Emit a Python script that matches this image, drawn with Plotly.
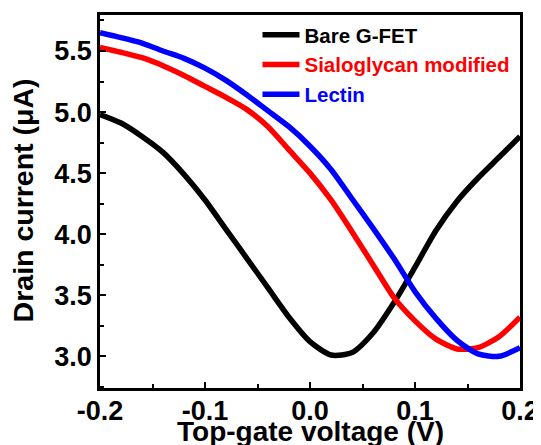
import plotly.graph_objects as go

# Top-gate voltage (V)
voltage = [-0.20, -0.18, -0.16, -0.14, -0.12, -0.10, -0.08, -0.06, -0.04, -0.02,
           0.00, 0.02, 0.04, 0.06, 0.08, 0.10, 0.12, 0.14, 0.16, 0.18, 0.20]

# Drain current (uA)
bare_gfet = [4.98, 4.91, 4.80, 4.67, 4.49, 4.28, 4.04, 3.80, 3.56, 3.32,
             3.12, 3.01, 3.03, 3.19, 3.44, 3.73, 4.03, 4.27, 4.46, 4.63, 4.80]
sialoglycan = [5.53, 5.49, 5.445, 5.38, 5.30, 5.21, 5.12, 5.02, 4.88, 4.69,
               4.50, 4.28, 4.02, 3.75, 3.48, 3.29, 3.14, 3.06, 3.07, 3.16, 3.32]
lectin = [5.65, 5.61, 5.565, 5.50, 5.44, 5.36, 5.26, 5.14, 5.01, 4.88,
          4.72, 4.53, 4.29, 4.05, 3.80, 3.53, 3.31, 3.13, 3.02, 3.00, 3.07]

x_ticks = [-0.2, -0.1, 0.0, 0.1, 0.2]
x_ticktext = ["-0.2", "-0.1", "0.0", "0.1", "0.2"]
y_ticks = [3.0, 3.5, 4.0, 4.5, 5.0, 5.5]
y_ticktext = ["3.0", "3.5", "4.0", "4.5", "5.0", "5.5"]

series = [
    ("Bare G-FET", bare_gfet, "#000000"),
    ("Sialoglycan modified", sialoglycan, "#FF0000"),
    ("Lectin", lectin, "#0000FF"),
]

FONT = "Arial, Liberation Sans"

fig = go.Figure()
for name, vals, color in series:
    fig.add_trace(go.Scatter(
        x=voltage, y=vals, mode="lines",
        name=f"<span style='color:{color}'>{name}</span>",
        line=dict(color=color, width=5.5, shape="spline", smoothing=0.7),
    ))

axis_common = dict(
    showline=True, linecolor="black", linewidth=2.5, mirror=True,
    ticks="inside", ticklen=6, tickwidth=2, tickcolor="black",
    showgrid=False, zeroline=False, automargin=False,
    tickfont=dict(family=FONT, size=27, color="black", weight="bold"),
)

fig.update_xaxes(
    range=[-0.2, 0.2], tickvals=x_ticks, ticktext=x_ticktext,
    minor=dict(dtick=0.05, ticks="inside", ticklen=4, tickwidth=2, tickcolor="black"),
    ticklabelstandoff=-3,
    **axis_common,
)
fig.update_yaxes(
    range=[2.74, 5.795], tickvals=y_ticks, ticktext=y_ticktext,
    minor=dict(dtick=0.25, tick0=3.0, ticks="inside", ticklen=4, tickwidth=2, tickcolor="black"),
    **axis_common,
)

title_font = dict(family=FONT, size=28, color="black", weight="bold")
fig.add_annotation(
    text="Top-gate voltage (V)", xref="paper", yref="paper", x=0.501, y=0,
    xanchor="center", yanchor="middle", yshift=-43, showarrow=False, font=title_font,
)
fig.add_annotation(
    text="Drain current (μA)", xref="paper", yref="paper", x=0, y=0.503,
    xanchor="center", yanchor="middle", xshift=-77, textangle=-90,
    showarrow=False, font=dict(family=FONT, size=28.5, color="black", weight="bold"),
)

# The page body adds an 8 px offset; the figure size/margins compensate for it.
fig.update_layout(
    width=533, height=437,
    margin=dict(l=92, r=21, t=7, b=57),
    paper_bgcolor="white", plot_bgcolor="white",
    showlegend=True,
    legend=dict(
        x=0.375, y=1.0, xanchor="left", yanchor="top",
        bgcolor="rgba(0,0,0,0)", borderwidth=0,
        font=dict(family=FONT, size=20.5, color="black", weight="bold"),
        tracegroupgap=0, itemwidth=37,
    ),
)

fig.write_html("out.html")
